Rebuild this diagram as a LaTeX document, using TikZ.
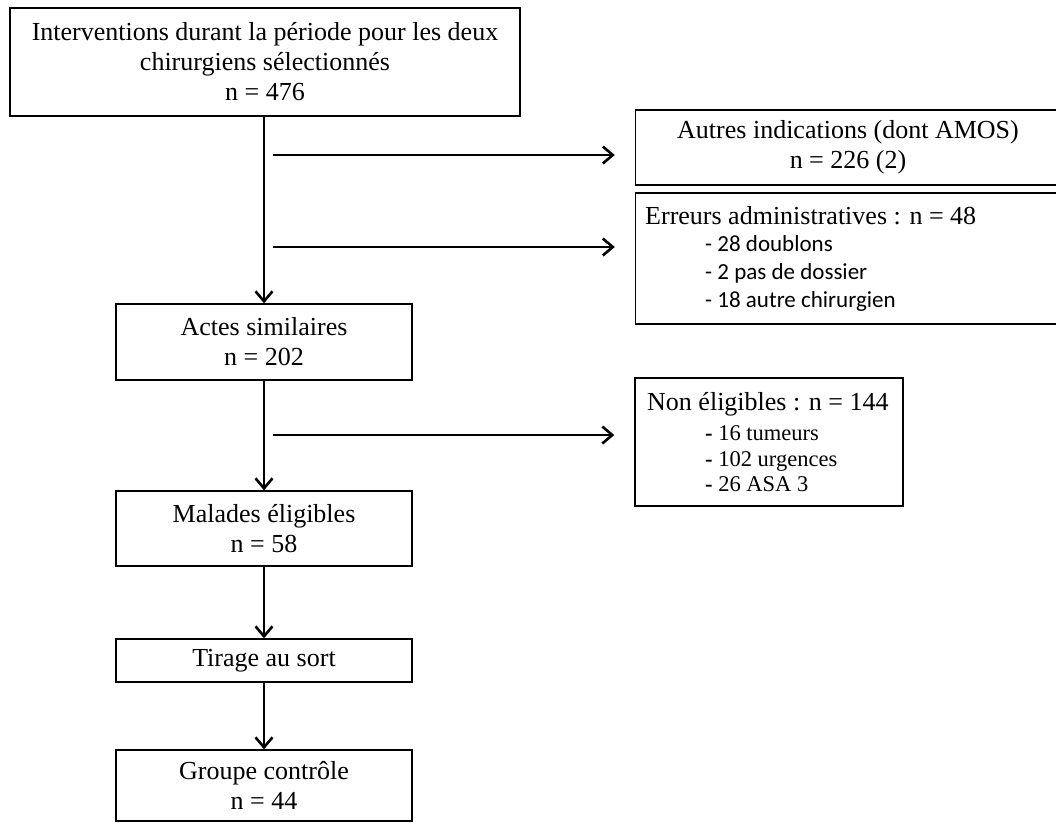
\documentclass[tikz,border=0pt]{standalone}
\usepackage{fontspec}
\setmainfont{Liberation Serif}
\newfontfamily\carl{Carlito}
\usetikzlibrary{arrows.meta,calc}
\begin{document}
\begin{tikzpicture}[x=1pt,y=-1pt,
  box/.style={draw=black,line width=1.4pt,inner sep=0pt,align=center,font=\fontsize{26}{30}\selectfont},
  arr/.style={line width=2.4pt,-{Straight Barb[length=10pt,width=17pt,line width=2.6pt]}},
  bigtxt/.style={font=\fontsize{26}{30}\selectfont,inner sep=0pt,anchor=base west},
  subtxt/.style={font=\carl\fontsize{23}{28}\selectfont,inner sep=0pt,anchor=base west},
  subtxtb/.style={font=\fontsize{22.5}{26}\selectfont,inner sep=0pt,anchor=base west}]
\useasboundingbox[fill=white] (0,0) rectangle (1056,823);

% main column
\node[box,minimum width=510pt,minimum height=108pt] (b1) at (265,62)
  {Interventions durant la période pour les deux\\chirurgiens sélectionnés\\n = 476};
\node[box,minimum width=296pt,minimum height=76pt] (actes) at (264,342)
  {Actes similaires\\n = 202};
\node[box,minimum width=296pt,minimum height=75pt] (malades) at (264,528.5)
  {Malades éligibles\\n = 58};
\node[box,minimum width=296pt,minimum height=43pt] (tirage) at (264,660.5)
  {Tirage au sort};
\node[box,minimum width=296pt,minimum height=71pt] (groupe) at (264,785.5)
  {Groupe contrôle\\n = 44};

% side boxes
\node[box,minimum width=425pt,minimum height=75pt] (autres) at (848,147.5)
  {Autres indications (dont AMOS)\\n = 226 (2)};
\node[box,minimum width=425pt,minimum height=131pt] (err) at (848,258.5) {};
\node[bigtxt] (errt) at (645,224) {Erreurs administratives : n = 48};
\node[subtxt] (err1) at (705,251) {- 28 doublons};
\node[subtxt] (err2) at (705,279) {- 2 pas de dossier};
\node[subtxt] (err3) at (705,307) {- 18 autre chirurgien};

\node[box,minimum width=268pt,minimum height=128pt] (non) at (769,442) {};
\node[bigtxt] (nont) at (647,410) {Non éligibles : n = 144};
\node[subtxtb] (non1) at (705,440) {\textbf{-} 16 tumeurs};
\node[subtxtb] (non2) at (705,466) {\textbf{-} 102 urgences};
\node[subtxtb] (non3) at (705,491) {\textbf{-} 26 ASA 3};

% vertical arrows
\draw[arr] (b1.south -| actes.north) -- (actes.north);
\draw[arr] (actes.south) -- (malades.north);
\draw[arr] (malades.south) -- (tirage.north);
\draw[arr] (tirage.south) -- (groupe.north);

% horizontal arrows
\coordinate (h1) at (273,155);
\coordinate (h2) at (273,247);
\coordinate (h3) at (273,435);
\draw[arr,shorten >=20pt] (h1) -- (h1 -| autres.west);
\draw[arr,shorten >=20pt] (h2) -- (h2 -| err.west);
\draw[arr,shorten >=20pt] (h3) -- (h3 -| non.west);
\end{tikzpicture}
\end{document}
